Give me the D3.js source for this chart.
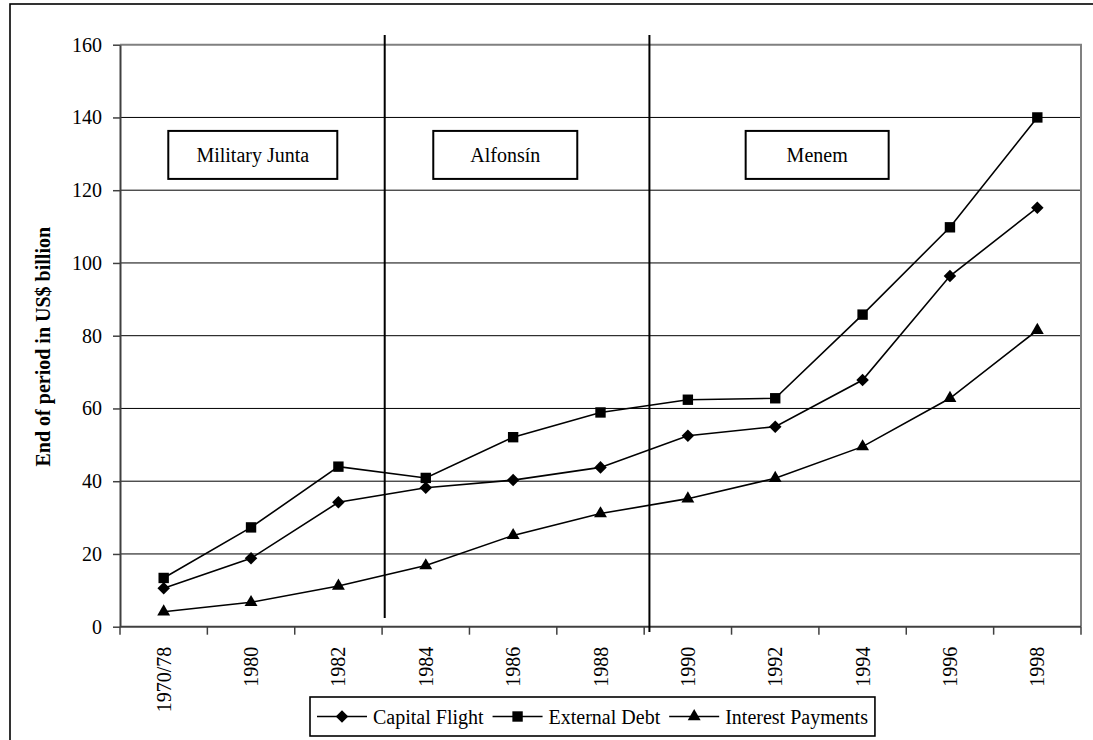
<!DOCTYPE html>
<html>
<head>
<meta charset="utf-8">
<script src="https://cdn.jsdelivr.net/npm/d3@7"></script>
<style>
  html, body { margin: 0; padding: 0; background: #fff; }
  svg { display: block; }
  text { font-family: "Liberation Serif", "DejaVu Serif", serif; fill: #000; }
</style>
</head>
<body>
<svg id="chart" width="1093" height="740"></svg>
<script>
// Argentina: capital flight, external debt and interest payments (US$ billion)
const categories = ["1970/78", "1980", "1982", "1984", "1986", "1988", "1990", "1992", "1994", "1996", "1998"];
const capitalFlight    = [10.6, 18.8, 34.2, 38.2, 40.3, 43.8, 52.5, 55.0, 67.8, 96.4, 115.2];
const externalDebt     = [13.4, 27.3, 44.0, 40.9, 52.1, 58.9, 62.4, 62.8, 85.8, 109.8, 140.0];
const interestPayments = [4.1, 6.7, 11.2, 16.8, 25.1, 31.1, 35.2, 40.8, 49.5, 62.8, 81.5];
const seriesNames = ["Capital Flight", "External Debt", "Interest Payments"];
const yTicks = [0, 20, 40, 60, 80, 100, 120, 140, 160];

// Government periods: divider positions (in category index units) and label boxes
const periodNames = ["Military Junta", "Alfonsín", "Menem"];
const periodCenters = [1.52, 4.41, 7.98];     // category index of box centre
const periodLevel = 129.7;                    // value at box centre
const periodSplits = [3.03, 6.06];            // category index of divider lines

const svg = d3.select("#chart");
const W = 1093, H = 740;
const plot = { left: 120, right: 1081, top: 44.7, bottom: 626.7 };

const x = d3.scaleBand().domain(categories).range([plot.left, plot.right]).padding(0);
const xi = d3.scaleLinear().domain([0, categories.length]).range([plot.left, plot.right]);
const y = d3.scaleLinear().domain([0, 160]).range([plot.bottom, plot.top]);

// outer frame
svg.append("rect")
  .attr("x", 10).attr("y", 4).attr("width", W).attr("height", H)
  .attr("fill", "none").attr("stroke", "#000").attr("stroke-width", 1.6);

// horizontal gridlines
svg.append("g").selectAll("line")
  .data(yTicks.filter(v => v > 0 && v < 160))
  .join("line")
  .attr("x1", plot.left).attr("x2", plot.right)
  .attr("y1", d => y(d)).attr("y2", d => y(d))
  .attr("stroke", "#000").attr("stroke-width", 1);

// plot area border (top and right)
svg.append("path")
  .attr("d", `M${plot.left},${y(160)}H${plot.right}V${plot.bottom}`)
  .attr("fill", "none").attr("stroke", "#808080").attr("stroke-width", 2);

// y axis
const yAxis = svg.append("g")
  .attr("transform", `translate(${plot.left},0)`)
  .call(d3.axisLeft(y).tickValues(yTicks).tickSize(7).tickSizeOuter(0).tickPadding(11));
yAxis.select(".domain").attr("stroke", "#404040").attr("stroke-width", 2);
yAxis.selectAll(".tick line").attr("stroke", "#404040").attr("stroke-width", 1.5);
yAxis.selectAll(".tick text")
  .style("font-family", "'Liberation Serif', serif").style("font-size", "20px").attr("fill", "#000");

// x axis: baseline, boundary ticks, rotated category labels
svg.append("line")
  .attr("x1", plot.left).attr("x2", plot.right)
  .attr("y1", plot.bottom).attr("y2", plot.bottom)
  .attr("stroke", "#404040").attr("stroke-width", 2);
svg.append("g").selectAll("line")
  .data(d3.range(categories.length + 1))
  .join("line")
  .attr("x1", d => xi(d)).attr("x2", d => xi(d))
  .attr("y1", plot.bottom).attr("y2", plot.bottom + 8)
  .attr("stroke", "#404040").attr("stroke-width", 1.5);
svg.append("g").selectAll("text")
  .data(categories)
  .join("text")
  .attr("transform", d => `translate(${x(d) + x.bandwidth() / 2},${plot.bottom + 20}) rotate(-90)`)
  .attr("text-anchor", "end")
  .attr("dy", "0.35em")
  .style("font-size", "20px")
  .text(d => d);

// y axis title
svg.append("text")
  .attr("transform", `translate(43,${(plot.top + plot.bottom) / 2 + 11}) rotate(-90)`)
  .attr("text-anchor", "middle")
  .attr("dy", "0.35em")
  .style("font-size", "20px").style("font-weight", "bold")
  .text("End of period in US$ billion");

// period divider lines
const splitExtents = [[35, 618], [35, 632]];
svg.append("g").selectAll("line")
  .data(periodSplits)
  .join("line")
  .attr("x1", d => xi(d)).attr("x2", d => xi(d))
  .attr("y1", (d, i) => splitExtents[i][0]).attr("y2", (d, i) => splitExtents[i][1])
  .attr("stroke", "#000").attr("stroke-width", 2);

// period label boxes
const boxWidths = [169, 144, 143];
const boxH = 48;
const pg = svg.append("g").selectAll("g")
  .data(periodNames)
  .join("g")
  .attr("transform", (d, i) => `translate(${xi(periodCenters[i])},${y(periodLevel)})`);
pg.append("rect")
  .attr("x", (d, i) => -boxWidths[i] / 2).attr("y", -boxH / 2)
  .attr("width", (d, i) => boxWidths[i]).attr("height", boxH)
  .attr("fill", "#fff").attr("stroke", "#000").attr("stroke-width", 2);
pg.append("text")
  .attr("text-anchor", "middle").attr("dy", "0.35em")
  .style("font-size", "20px")
  .text(d => d);

// series lines and markers
const seriesData = [capitalFlight, externalDebt, interestPayments];
const symbols = [
  d3.symbol().type(d3.symbolDiamond2).size(100),
  d3.symbol().type(d3.symbolSquare).size(108),
  d3.symbol().type(d3.symbolTriangle).size(72)
];
const line = d3.line()
  .x((d, i) => x(categories[i]) + x.bandwidth() / 2)
  .y(d => y(d));

seriesData.forEach((vals, s) => {
  const g = svg.append("g");
  g.append("path")
    .attr("d", line(vals))
    .attr("fill", "none").attr("stroke", "#000").attr("stroke-width", 1.6);
  g.selectAll("path.m")
    .data(vals)
    .join("path")
    .attr("class", "m")
    .attr("transform", (d, i) => `translate(${x(categories[i]) + x.bandwidth() / 2},${y(d)})`)
    .attr("d", symbols[s]())
    .attr("fill", "#000");
});

// legend
const legend = svg.append("g");
const legX = 310, legY = 697, legH = 39;
let cx = legX + 7;
seriesNames.forEach((name, s) => {
  const g = legend.append("g");
  g.append("line")
    .attr("x1", cx).attr("x2", cx + 50)
    .attr("y1", legY + legH / 2).attr("y2", legY + legH / 2)
    .attr("stroke", "#000").attr("stroke-width", 1.6);
  g.append("path")
    .attr("transform", `translate(${cx + 25},${legY + legH / 2})`)
    .attr("d", symbols[s]())
    .attr("fill", "#000");
  const t = g.append("text")
    .attr("x", cx + 56).attr("y", legY + legH / 2)
    .attr("dy", "0.35em")
    .style("font-size", "20px")
    .text(name);
  cx = cx + 56 + t.node().getComputedTextLength() + 9;
});
legend.insert("rect", ":first-child")
  .attr("x", legX).attr("y", legY)
  .attr("width", cx - legX - 2).attr("height", legH)
  .attr("fill", "#fff").attr("stroke", "#000").attr("stroke-width", 1.6);
</script>
</body>
</html>
